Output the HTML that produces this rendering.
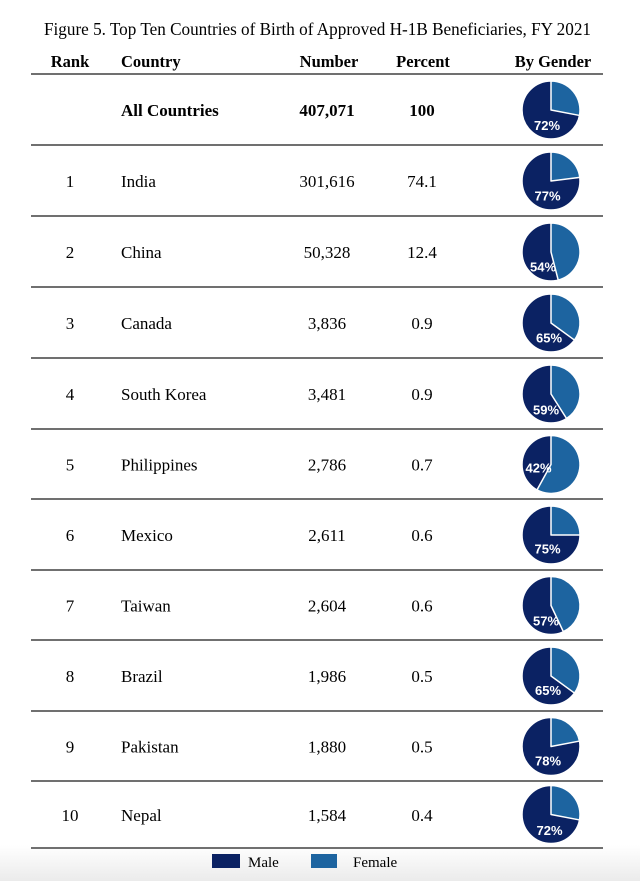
<!DOCTYPE html>
<html>
<head>
<meta charset="utf-8">
<style>
html,body{margin:0;padding:0;background:#fff;}
svg{display:block;}
text{font-family:"Liberation Serif","Times New Roman",serif;fill:#000;}
.lab{font-family:"Liberation Sans",Arial,sans-serif;font-weight:bold;font-size:13px;fill:#fff;}
</style>
</head>
<body>
<svg width="640" height="881" viewBox="0 0 640 881" xmlns="http://www.w3.org/2000/svg">
<defs>
<linearGradient id="bg" x1="0" y1="0" x2="0" y2="1">
<stop offset="0" stop-color="#ffffff"/>
<stop offset="1" stop-color="#ebebeb"/>
</linearGradient>
</defs>
<rect x="0" y="0" width="640" height="881" fill="#fff"/>
<rect x="0" y="845" width="640" height="36" fill="url(#bg)"/>

<text x="317.5" y="35" font-size="17.5" text-anchor="middle" textLength="547" lengthAdjust="spacingAndGlyphs">Figure 5. Top Ten Countries of Birth of Approved H-1B Beneficiaries, FY 2021</text>

<g font-size="16.5" font-weight="bold">
<text x="70" y="67" text-anchor="middle" font-weight="bold">Rank</text>
<text x="121" y="67" font-weight="bold">Country</text>
<text x="329" y="67" text-anchor="middle" font-weight="bold">Number</text>
<text x="423" y="67" text-anchor="middle" font-weight="bold">Percent</text>
<text x="553" y="67" text-anchor="middle" font-weight="bold">By Gender</text>
</g>

<g stroke="#707070" stroke-width="2">
<line x1="31" y1="74" x2="603" y2="74"/>
<line x1="31" y1="145" x2="603" y2="145"/>
<line x1="31" y1="216" x2="603" y2="216"/>
<line x1="31" y1="287" x2="603" y2="287"/>
<line x1="31" y1="358" x2="603" y2="358"/>
<line x1="31" y1="429" x2="603" y2="429"/>
<line x1="31" y1="499" x2="603" y2="499"/>
<line x1="31" y1="570" x2="603" y2="570"/>
<line x1="31" y1="640" x2="603" y2="640"/>
<line x1="31" y1="711" x2="603" y2="711"/>
<line x1="31" y1="781" x2="603" y2="781"/>
<line x1="31" y1="848" x2="603" y2="848"/>
</g>

<g font-size="17">
<text x="121" y="116" font-weight="bold">All Countries</text>
<text x="327" y="116" text-anchor="middle" font-weight="bold">407,071</text>
<text x="422" y="116" text-anchor="middle" font-weight="bold">100</text>

<text x="70" y="187" text-anchor="middle">1</text>
<text x="121" y="187">India</text>
<text x="327" y="187" text-anchor="middle">301,616</text>
<text x="422" y="187" text-anchor="middle">74.1</text>

<text x="70" y="258" text-anchor="middle">2</text>
<text x="121" y="258">China</text>
<text x="327" y="258" text-anchor="middle">50,328</text>
<text x="422" y="258" text-anchor="middle">12.4</text>

<text x="70" y="329" text-anchor="middle">3</text>
<text x="121" y="329">Canada</text>
<text x="327" y="329" text-anchor="middle">3,836</text>
<text x="422" y="329" text-anchor="middle">0.9</text>

<text x="70" y="400" text-anchor="middle">4</text>
<text x="121" y="400">South Korea</text>
<text x="327" y="400" text-anchor="middle">3,481</text>
<text x="422" y="400" text-anchor="middle">0.9</text>

<text x="70" y="470.5" text-anchor="middle">5</text>
<text x="121" y="470.5">Philippines</text>
<text x="327" y="470.5" text-anchor="middle">2,786</text>
<text x="422" y="470.5" text-anchor="middle">0.7</text>

<text x="70" y="541" text-anchor="middle">6</text>
<text x="121" y="541">Mexico</text>
<text x="327" y="541" text-anchor="middle">2,611</text>
<text x="422" y="541" text-anchor="middle">0.6</text>

<text x="70" y="611.5" text-anchor="middle">7</text>
<text x="121" y="611.5">Taiwan</text>
<text x="327" y="611.5" text-anchor="middle">2,604</text>
<text x="422" y="611.5" text-anchor="middle">0.6</text>

<text x="70" y="682" text-anchor="middle">8</text>
<text x="121" y="682">Brazil</text>
<text x="327" y="682" text-anchor="middle">1,986</text>
<text x="422" y="682" text-anchor="middle">0.5</text>

<text x="70" y="752.5" text-anchor="middle">9</text>
<text x="121" y="752.5">Pakistan</text>
<text x="327" y="752.5" text-anchor="middle">1,880</text>
<text x="422" y="752.5" text-anchor="middle">0.5</text>

<text x="70" y="821" text-anchor="middle">10</text>
<text x="121" y="821">Nepal</text>
<text x="327" y="821" text-anchor="middle">1,584</text>
<text x="422" y="821" text-anchor="middle">0.4</text>
</g>

<g stroke="#fff" stroke-width="1.5" stroke-linejoin="round">
<g transform="translate(551,110)">
<circle r="29" fill="#0b2263"/>
<path d="M0,0 L0,-29 A29,29 0 0 1 28.49,5.43 Z" fill="#1d64a0"/>
</g>
<g transform="translate(551,181)">
<circle r="29" fill="#0b2263"/>
<path d="M0,0 L0,-29 A29,29 0 0 1 28.77,-3.63 Z" fill="#1d64a0"/>
</g>
<g transform="translate(551,252)">
<circle r="29" fill="#0b2263"/>
<path d="M0,0 L0,-29 A29,29 0 0 1 7.21,28.09 Z" fill="#1d64a0"/>
</g>
<g transform="translate(551,323)">
<circle r="29" fill="#0b2263"/>
<path d="M0,0 L0,-29 A29,29 0 0 1 23.46,17.05 Z" fill="#1d64a0"/>
</g>
<g transform="translate(551,394)">
<circle r="29" fill="#0b2263"/>
<path d="M0,0 L0,-29 A29,29 0 0 1 15.54,24.48 Z" fill="#1d64a0"/>
</g>
<g transform="translate(551,464.5)">
<circle r="29" fill="#0b2263"/>
<path d="M0,0 L0,-29 A29,29 0 1 1 -13.97,25.41 Z" fill="#1d64a0"/>
</g>
<g transform="translate(551,535)">
<circle r="29" fill="#0b2263"/>
<path d="M0,0 L0,-29 A29,29 0 0 1 29,0 Z" fill="#1d64a0"/>
</g>
<g transform="translate(551,605.5)">
<circle r="29" fill="#0b2263"/>
<path d="M0,0 L0,-29 A29,29 0 0 1 12.35,26.24 Z" fill="#1d64a0"/>
</g>
<g transform="translate(551,676)">
<circle r="29" fill="#0b2263"/>
<path d="M0,0 L0,-29 A29,29 0 0 1 23.46,17.05 Z" fill="#1d64a0"/>
</g>
<g transform="translate(551,746.5)">
<circle r="29" fill="#0b2263"/>
<path d="M0,0 L0,-29 A29,29 0 0 1 28.49,-5.43 Z" fill="#1d64a0"/>
</g>
<g transform="translate(551,814.5)">
<circle r="29" fill="#0b2263"/>
<path d="M0,0 L0,-29 A29,29 0 0 1 28.49,5.43 Z" fill="#1d64a0"/>
</g>
</g>

<g>
<text class="lab" x="547" y="130" text-anchor="middle">72%</text>
<text class="lab" x="547.5" y="200.5" text-anchor="middle">77%</text>
<text class="lab" x="543" y="271.5" text-anchor="middle">54%</text>
<text class="lab" x="549" y="342.5" text-anchor="middle">65%</text>
<text class="lab" x="546" y="414.5" text-anchor="middle">59%</text>
<text class="lab" x="538.5" y="472.5" text-anchor="middle">42%</text>
<text class="lab" x="547.5" y="553.5" text-anchor="middle">75%</text>
<text class="lab" x="546" y="625.5" text-anchor="middle">57%</text>
<text class="lab" x="548" y="695" text-anchor="middle">65%</text>
<text class="lab" x="548" y="765.5" text-anchor="middle">78%</text>
<text class="lab" x="549.5" y="835" text-anchor="middle">72%</text>
</g>

<rect x="212" y="854" width="28" height="14" fill="#0b2263"/>
<text x="248" y="867" font-size="15">Male</text>
<rect x="311" y="854" width="26" height="14" fill="#1d64a0"/>
<text x="353" y="867" font-size="15">Female</text>
</svg>
</body>
</html>
